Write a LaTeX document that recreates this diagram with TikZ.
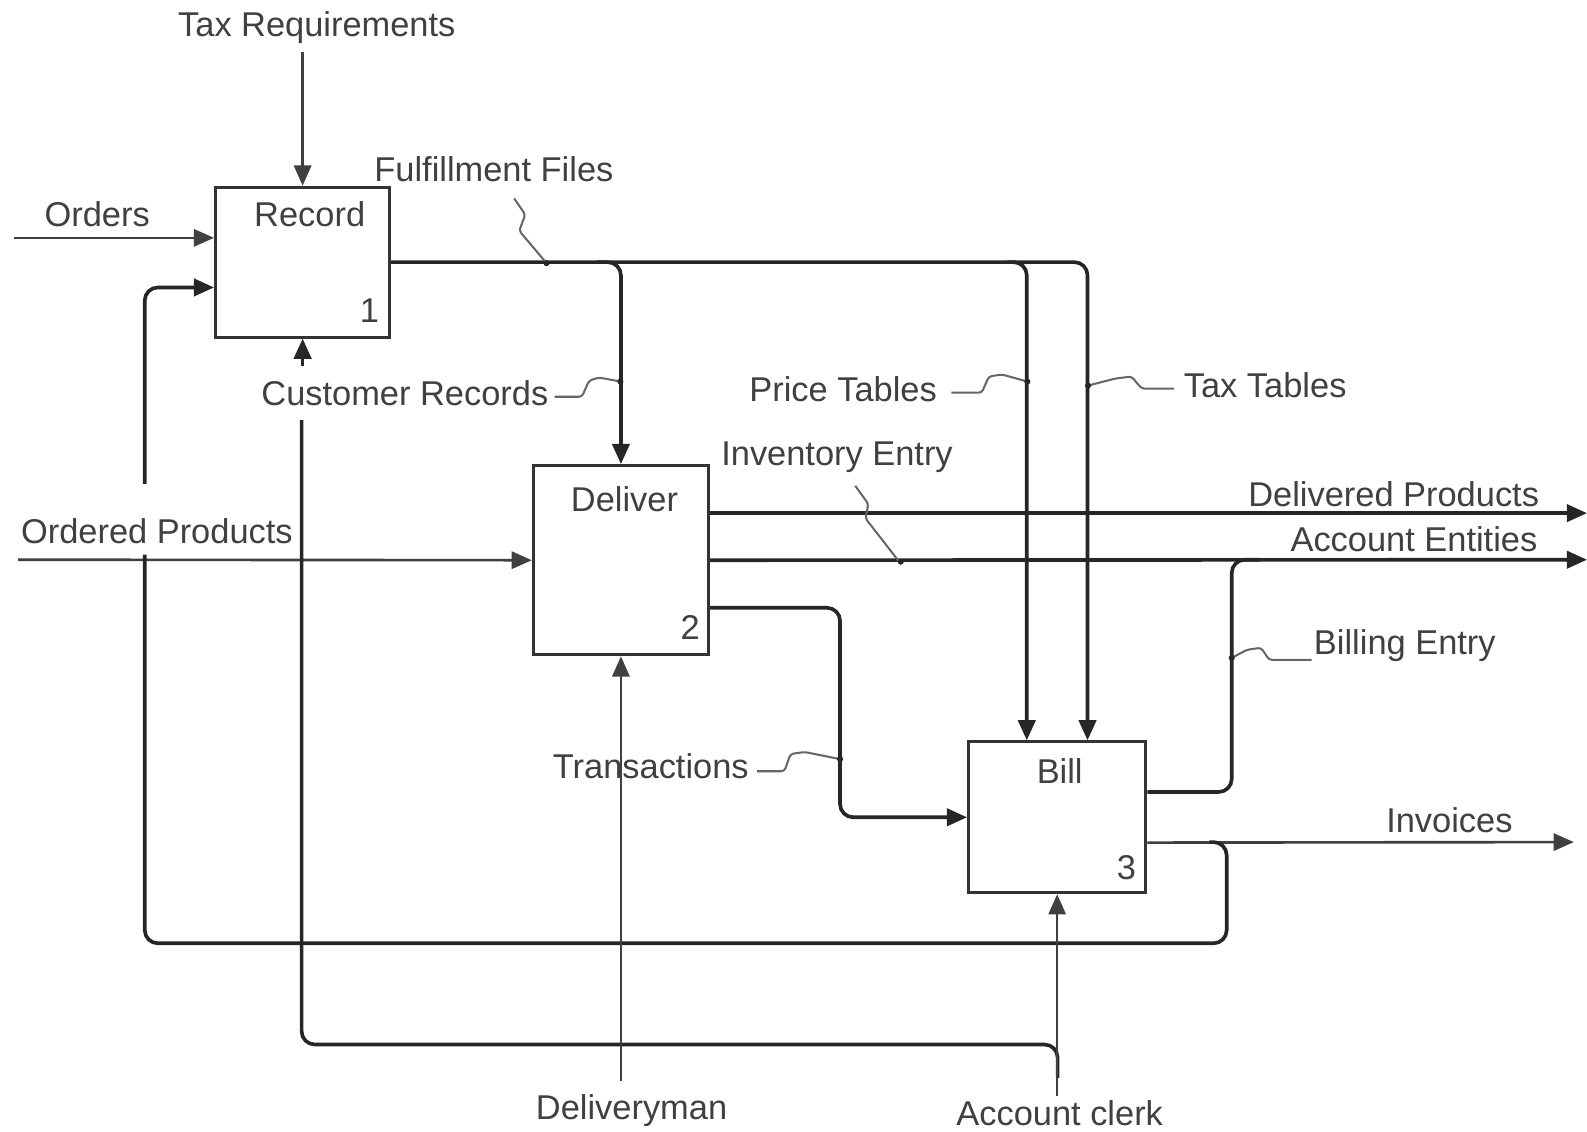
\documentclass[tikz,border=0pt]{standalone}
\usepackage{fontspec}
\setmainfont{Liberation Sans}
\usetikzlibrary{arrows.meta,calc}
\begin{document}
\begin{tikzpicture}[x=1pt,y=-1pt,
  box/.style={draw=black!80, line width=3pt, inner sep=0pt, minimum width=172pt, minimum height=148pt},
  lbl/.style={text=black!75, font=\fontsize{34}{40}\selectfont, inner sep=0pt},
  flow/.style={draw=black!85, line width=3.6pt, rounded corners=13pt},
  thinflow/.style={draw=black!75, line width=2.6pt},
  arr/.style={-{Triangle[length=20pt,width=17pt]}},
  sq/.style={draw=black!60, line width=2pt, rounded corners=3pt},
  jdot/.style={fill=black!85, circle, inner sep=0pt, minimum size=6pt}
]
\useasboundingbox (0,0) rectangle (1568,1118);

% boxes
\node[box] (rec) at (299,259) {};
\node[box, minimum width=173pt, minimum height=187pt] (deliver) at (613.5,553.5) {};
\node[box, minimum width=175pt, minimum height=149pt] (bill) at (1044.5,807.5) {};

\node[lbl] (recname) at (306,212) {Record};
\node[lbl] (recnum) at (365,307) {1};
\node[lbl] (delname) at (617,493) {Deliver};
\node[lbl] (delnum) at (682,620) {2};
\node[lbl] (billname) at (1047,762) {Bill};
\node[lbl] (billnum) at (1113,857) {3};

% labels
\node[lbl] (taxreq) at (313,27) {Tax Requirements};
\node[lbl] (orders) at (96,212) {Orders};
\node[lbl] (ffiles) at (488,167) {Fulfillment Files};
\node[lbl] (crec) at (400,388) {Customer Records};
\node[lbl] (ptab) at (833,385) {Price Tables};
\node[lbl] (ttab) at (1250,381) {Tax Tables};
\node[lbl] (ientry) at (827,452) {Inventory Entry};
\node[lbl] (dprod) at (1377,488) {Delivered Products};
\node[lbl] (aent) at (1397,533) {Account Entities};
\node[lbl] (oprod) at (155,525) {Ordered Products};
\node[lbl] (bentry) at (1388,638) {Billing Entry};
\node[lbl] (trans) at (643,757) {Transactions};
\node[lbl] (inv) at (1432,810) {Invoices};
\node[lbl] (dman) at (624,1097) {Deliveryman};
\node[lbl] (aclerk) at (1047,1100) {Account clerk};

% free ends
\coordinate (ordIn) at (14,235);
\coordinate (opIn) at (18,553);
\coordinate (dpEnd) at (1568,507);
\coordinate (aeEnd) at (1568,553);
\coordinate (invEnd) at (1555,832);
\coordinate (trJ) at (830,750);
\coordinate (beJ) at (1217,650);
\coordinate (dmTop) at (0,1068);
\coordinate (acTop) at (0,1083);

% controls and inputs of Record
\draw[thinflow,arr] (rec.north |- taxreq.south) ++(0,8) -- (rec.north);
\draw[thinflow,arr] (ordIn) -- ([yshift=24pt]rec.west);

% fulfillment files
\draw[flow,arr] (rec.east) -| ([xshift=30pt]bill.north);
\draw[flow,arr] (590,259) -| (deliver.north);
\draw[flow,arr] (995,259) -| ([xshift=-30pt]bill.north);

% Deliver outputs
\draw[flow,arr] (deliver.east |- dpEnd) -- (dpEnd);
\draw[flow,arr] (deliver.east) -- (aeEnd);
\draw[thinflow,arr] (opIn) -- (deliver.west);
\draw[flow,arr] ([yshift=-47pt]deliver.east) -| (trJ) |- (bill.west);

% Bill outputs
\draw[flow] ([yshift=25pt]bill.east) -| (beJ) |- (1245,553);
\draw[thinflow,arr] ([yshift=-25pt]bill.east) -- (invEnd);

% feedback loop to Record
\draw[flow] (1195,832) -| (1212,932) -| (143,548);
\draw[flow,arr] (143,478) |- ([yshift=-25pt]rec.west);

% customer records loop
\draw[flow] (1045,1065) |- (298,1032) -- (298,415);
\draw[flow,arr] ([yshift=-27pt]rec.south) -- (rec.south);

% mechanisms
\draw[thinflow,arr] (deliver.south |- dmTop) -- (deliver.south);
\draw[thinflow,arr] (bill.south |- acTop) -- (bill.south);

% squiggles
\draw[sq] (508,196) -- (519,212) -- (513,228) -- (540,260);
\draw[sq] (548,392) -- (575,392) -- (582,376) -- (592,373) -- (613,377);
\draw[sq] (940,388) -- (970,388) -- (977,372) -- (990,370) -- (1015,377);
\draw[sq] (1160,384) -- (1128,384) -- (1118,372) -- (1102,374) -- (1075,381);
\draw[sq] (845,480) -- (858,498) -- (855,512) -- (890,557);
\draw[sq] (748,762) -- (775,762) -- (781,745) -- (795,743) -- (830,750);
\draw[sq] (beJ) -- (1232,642) -- (1246,640) -- (1254,652) -- (1296,652);

% junction dots
\node[jdot] (d1) at (540,260) {};
\node[jdot] (d2) at (613,377) {};
\node[jdot] (d3) at (1015,377) {};
\node[jdot] (d4) at (1075,381) {};
\node[jdot] (d5) at (890,555) {};
\node[jdot] (d6) at (830,750) {};
\node[jdot] (d7) at (1217,650) {};
\end{tikzpicture}
\end{document}
